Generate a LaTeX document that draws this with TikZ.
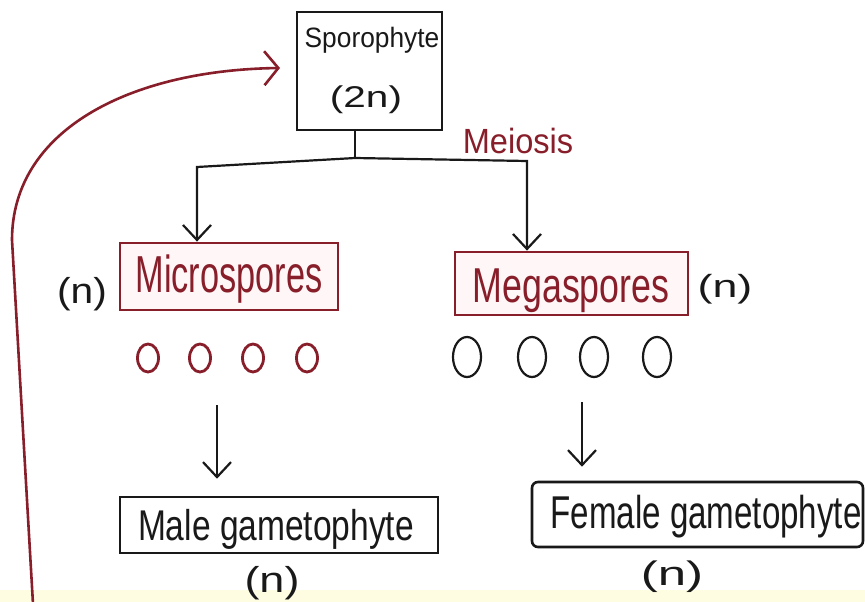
\documentclass[tikz,border=0pt]{standalone}
\usepackage{fontspec}
\setmainfont{Liberation Sans}
\usepackage{graphicx}
\usetikzlibrary{arrows.meta,shapes.geometric}
\definecolor{maroon}{RGB}{135,30,42}
\definecolor{ink}{RGB}{25,25,25}
\definecolor{paleband}{RGB}{254,253,226}
\newcommand{\hw}[3]{\fontsize{#1}{#1}\selectfont\scalebox{#2}[1]{#3}}
\begin{document}
\begin{tikzpicture}[x=1pt,y=-1pt,
  box/.style={draw=ink, line width=2.6pt, inner sep=0pt},
  redbox/.style={draw=maroon, line width=2.8pt, fill=red!3, inner sep=0pt},
  lbl/.style={anchor=base, inner sep=0pt, text=ink},
  redlbl/.style={lbl, text=maroon},
  plainline/.style={draw=ink, line width=2.2pt},
  conn/.style={plainline, -{Straight Barb[length=15pt,width=28pt]}},
  redconn/.style={draw=maroon, line width=2.6pt, -{Straight Barb[length=14pt,width=34pt]}},
  micro circ/.style={draw=maroon, line width=2.8pt, ellipse, minimum width=21pt, minimum height=28pt, inner sep=0pt},
  mega circ/.style={draw=ink, line width=2.2pt, ellipse, minimum width=28pt, minimum height=40pt, inner sep=0pt}
]
\useasboundingbox (0,0) rectangle (865,602);
\fill[white] (0,0) rectangle (865,602);
\fill[paleband] (0,590) rectangle (865,602);

% Sporophyte
\node[box, minimum width=145pt, minimum height=118pt] (spor) at (369.5,71) {};
\node[lbl] (sporT) at (372,48) {\hw{28}{0.94}{Sporophyte}};
\node[lbl] (sporN) at (366,107) {\hw{30}{1.35}{(2n)}};
\node[redlbl] (meio) at (518,153) {\hw{35}{0.93}{Meiosis}};

% Microspores / Megaspores
\node[redbox, minimum width=218pt, minimum height=67pt] (micro) at (229,276.5) {};
\node[redlbl] (microT) at (229,292) {\hw{52}{0.66}{Microspores}};
\node[lbl] (nL) at (82,303) {\hw{36}{1.13}{(n)}};

\node[redbox, minimum width=233pt, minimum height=63pt] (mega) at (571.5,283.5) {};
\node[redlbl] (megaT) at (571,302) {\hw{49}{0.73}{Megaspores}};
\node[lbl] (nR) at (725,297) {\hw{32}{1.4}{(n)}};

% spores
\node[micro circ] (mc1) at (148,358) {};
\node[micro circ] (mc2) at (200,358) {};
\node[micro circ] (mc3) at (253,358) {};
\node[micro circ] (mc4) at (307,358) {};
\node[mega circ] (gc1) at (467,357) {};
\node[mega circ] (gc2) at (532,357) {};
\node[mega circ] (gc3) at (594,357) {};
\node[mega circ] (gc4) at (657,357) {};

% gametophytes
\node[box, minimum width=318pt, minimum height=56pt] (male) at (279,525) {};
\node[lbl] (maleT) at (276,540) {\hw{43}{0.78}{Male gametophyte}};
\node[lbl] (maleN) at (272,592) {\hw{36}{1.25}{(n)}};

\node[box, rounded corners=6pt, minimum width=331pt, minimum height=65pt] (female) at (697.5,514.5) {};
\node[lbl] (femaleT) at (706,528) {\hw{46}{0.72}{Female gametophyte}};
\node[lbl] (femaleN) at (672,585) {\hw{34}{1.5}{(n)}};

% connectors
\coordinate (j) at (355,158);
\coordinate (jl) at (197,167);
\coordinate (jr) at (527,161);
\draw[plainline] (spor.south -| j) -- (j);
\draw[conn] (j) -- (jl) -- (jl |- micro.north);
\draw[conn] (j) -- (jr) -- (jr |- mega.north);

\coordinate (al) at (217,405);
\coordinate (ar) at (582,402);
\draw[conn, shorten >=17pt] (al) -- (al |- male.north);
\draw[conn, shorten >=14pt] (ar) -- (ar |- female.north);

% red return arrow
\coordinate (rs) at (33,604);
\coordinate (rt) at (280,68);
\draw[redconn] (rs) -- (12,240) .. controls (12,130) and (130,70) .. (rt);
\end{tikzpicture}
\end{document}
